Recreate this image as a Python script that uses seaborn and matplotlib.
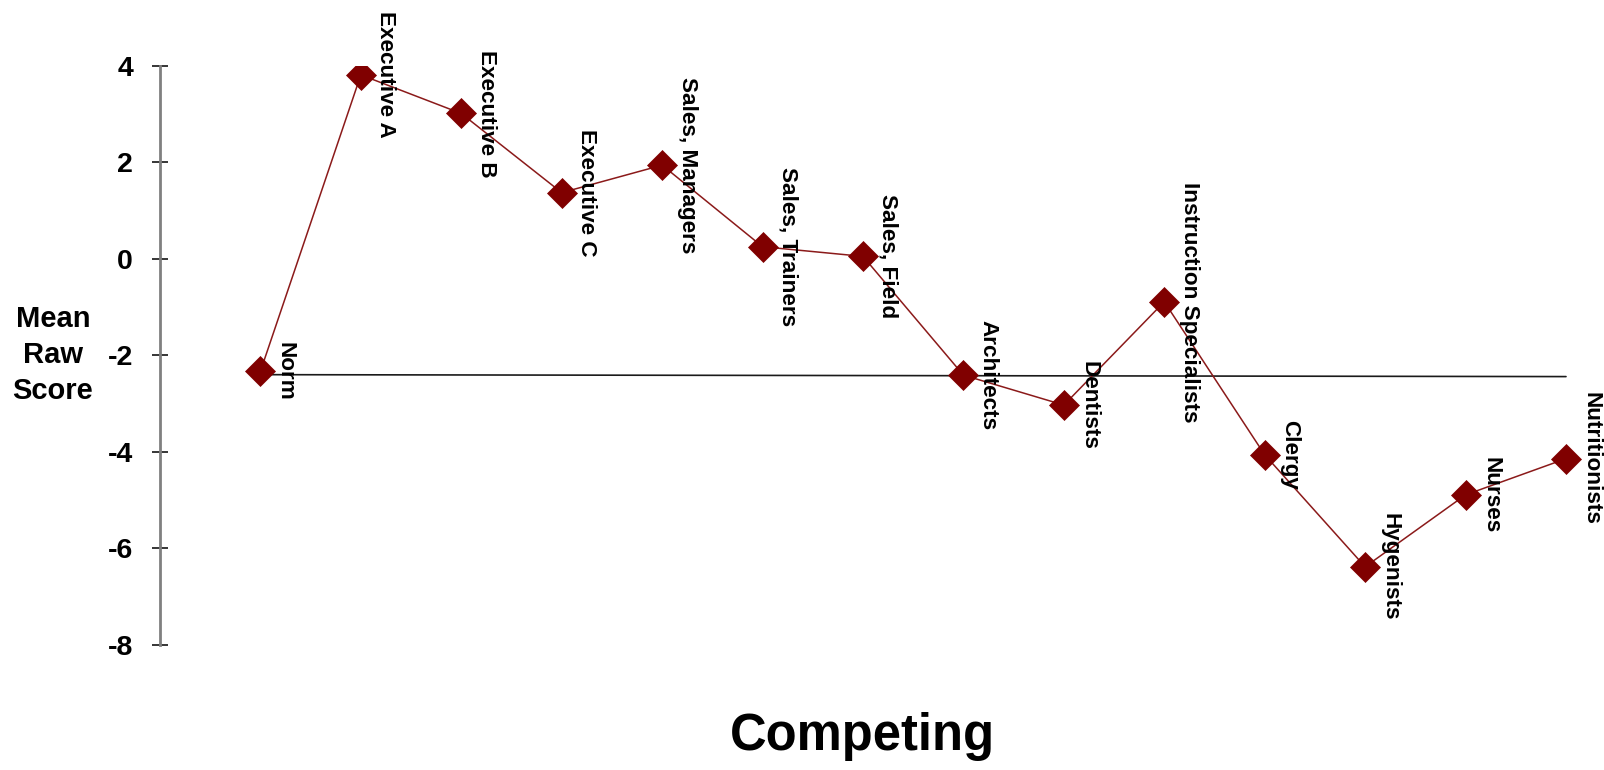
import matplotlib
matplotlib.use("Agg")
import matplotlib.pyplot as plt
import seaborn as sns
import pandas as pd

# Mean raw scores for the "Competing" scale by occupational group
groups = [
    "Norm", "Executive A", "Executive B", "Executive C", "Sales, Managers",
    "Sales, Trainers", "Sales, Field", "Architects", "Dentists",
    "Instruction Specialists", "Clergy", "Hygenists", "Nurses", "Nutritionists",
]
scores = [-2.33, 3.81, 3.01, 1.37, 1.94, 0.25, 0.05, -2.41, -3.03,
          -0.89, -4.06, -6.38, -4.89, -4.14]

# Reference line for the norm group (start and end value)
norm_line = [-2.40, -2.44]

y_ticks = [4, 2, 0, -2, -4, -6, -8]

sns.set_theme(style="white")
plt.rcParams["font.family"] = ["Liberation Sans", "DejaVu Sans"]
plt.rcParams["font.weight"] = "bold"
plt.rcParams["text.color"] = "black"
plt.rcParams["ytick.color"] = "black"
plt.rcParams["ytick.labelcolor"] = "black"

df = pd.DataFrame({"pos": range(len(groups)), "group": groups, "score": scores})

fig = plt.figure(figsize=(16.04, 7.70), dpi=100)
ax = fig.add_axes([160 / 1604, 1 - 645 / 770, 1 - 160 / 1604, (645 - 65.7) / 770])

# Norm reference line across all groups
ax.plot([0, len(groups) - 1], norm_line, color="#1a1a1a", linewidth=1.2, zorder=1)

sns.lineplot(
    data=df, x="pos", y="score", ax=ax,
    color="#8B1A1A", linewidth=1.1,
    marker="D", markersize=15, markerfacecolor="#800000",
    markeredgecolor="#800000", markeredgewidth=0.5, zorder=3,
)

for x, (name, v) in enumerate(zip(groups, scores)):
    ax.annotate(
        name, xy=(x, v), xytext=(18, 0), textcoords="offset points",
        rotation=270, ha="center", va="center",
        fontsize=16.2, fontweight="bold", color="black", zorder=4,
    )

ax.set_xlim(-1, len(groups) - 1 + 38 / 100.4)
ax.set_ylim(-8, 4)
ax.set_yticks(y_ticks)
ax.set_yticklabels([str(t) for t in y_ticks], fontsize=20.5, fontweight="bold",
                   color="black")
ax.set_xticks([])
ax.set_xlabel("")
ax.set_ylabel("")

for side in ["top", "right", "bottom"]:
    ax.spines[side].set_visible(False)
ax.spines["left"].set_color("#808080")
ax.spines["left"].set_linewidth(2)
ax.tick_params(axis="y", direction="inout", length=12, width=1.1,
               color="black", pad=13.5, left=True)

fig.text(53 / 1604, 1 - 355 / 770, "Mean\nRaw\nScore", ha="center", va="center",
         multialignment="center", fontsize=21, fontweight="bold", linespacing=1.35,
         color="black")
fig.text(862 / 1604, 1 - 750 / 770, "Competing", ha="center", va="baseline",
         fontsize=36.5, fontweight="bold", color="black")

fig.savefig("out.png", dpi=100, facecolor="white")
